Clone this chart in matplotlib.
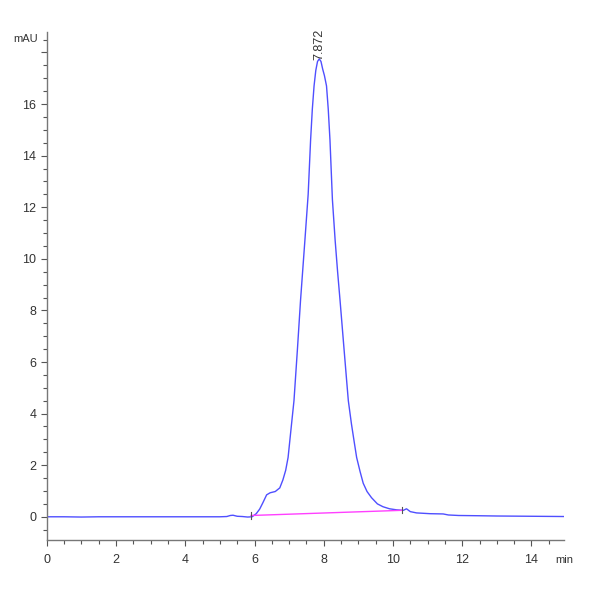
import numpy as np
import matplotlib.pyplot as plt
from matplotlib.ticker import MultipleLocator

# chromatogram trace (min, mAU)
time_min = [0.0, 0.5, 1.0, 1.5, 2.0, 2.5, 3.0, 3.5, 4.0, 4.5, 5.0, 5.2, 5.3, 5.38,
            5.5, 5.65, 5.8, 5.93, 6.05, 6.15, 6.24, 6.35, 6.45, 6.6, 6.73, 6.82,
            6.9, 6.97, 7.07, 7.14, 7.24, 7.33, 7.46, 7.55, 7.62, 7.67, 7.72, 7.77,
            7.82, 7.87, 7.92, 7.97, 8.02, 8.08, 8.13, 8.18, 8.25, 8.33, 8.40, 8.47,
            8.58, 8.66, 8.71, 8.80, 8.88, 8.95, 9.05, 9.14, 9.25, 9.38, 9.55, 9.71,
            9.9, 10.1, 10.3, 10.39, 10.5, 10.68, 11.07, 11.45, 11.6, 11.9, 12.5,
            13.0, 14.0, 14.94]
signal = [0.0, 0.0, -0.01, 0.0, 0.0, 0.0, 0.0, 0.0, 0.0, 0.0, 0.0, 0.01, 0.05, 0.06,
          0.02, 0.01, -0.01, 0.0, 0.12, 0.3, 0.54, 0.85, 0.93, 0.98, 1.12, 1.43,
          1.8, 2.3, 3.6, 4.5, 6.5, 8.4, 10.8, 12.5, 14.6, 15.8, 16.7, 17.3,
          17.65, 17.75, 17.65, 17.35, 17.1, 16.7, 15.8, 14.6, 12.3, 10.7, 9.5, 8.4,
          6.6, 5.3, 4.5, 3.6, 2.9, 2.3, 1.75, 1.3, 0.98, 0.74, 0.5, 0.39,
          0.31, 0.27, 0.25, 0.31, 0.2, 0.15, 0.12, 0.11, 0.07, 0.05, 0.04,
          0.03, 0.02, 0.01]

# integration baseline
base_t = [5.9, 10.25]
base_v = [0.05, 0.25]

peak_rt = 7.872
peak_h = 17.75

y_ticks = [0, 2, 4, 6, 8, 10, 12, 14, 16, 18]
y_labels = ['0', '2', '4', '6', '8', '10', '12', '14', '16', '']
x_ticks = [0, 2, 4, 6, 8, 10, 12, 14]

plt.rcParams['font.family'] = ['Liberation Sans Narrow', 'Liberation Sans', 'DejaVu Sans']

fig = plt.figure(figsize=(6, 6), dpi=100)
ax = fig.add_axes([0.078, 0.1, 0.862, 0.847])

ax.plot(time_min, signal, color='#4f4fff', lw=1.0)
ax.plot(base_t, base_v, color='#ff40ff', lw=1.0)
for t, v in zip(base_t, base_v):
    ax.plot([t, t], [v - 0.12, v + 0.12], color='#555555', lw=0.8)

ax.text(peak_rt, peak_h - 0.05, '%.3f' % peak_rt, rotation=90, ha='center', va='bottom',
        fontsize=9, color='#333333')

ax.set_xlim(0, 14.94)
ax.set_ylim(-0.9, 18.8)

for s in ['top', 'right']:
    ax.spines[s].set_visible(False)
for s in ['left', 'bottom']:
    ax.spines[s].set_color('#777777')
    ax.spines[s].set_linewidth(1.0)

ax.set_xticks(x_ticks)
ax.set_yticks(y_ticks)
ax.set_yticklabels(y_labels)
ax.xaxis.set_minor_locator(MultipleLocator(0.5))
ax.yaxis.set_minor_locator(MultipleLocator(0.5))
ax.tick_params(which='both', direction='out', color='#555555', labelcolor='#333333',
               labelsize=9, width=0.8)
ax.tick_params(which='major', length=4)
ax.tick_params(which='minor', length=3)
ax.tick_params(axis='x', pad=6)

ax.text(-0.018, 0.985, 'mAU', transform=ax.transAxes, ha='right', va='center',
        fontsize=8, color='#333333')
ax.text(1.0, -0.03, 'min', transform=ax.transAxes, ha='center', va='top',
        fontsize=8, color='#333333')

fig.savefig('out.png', dpi=100, facecolor='white')
